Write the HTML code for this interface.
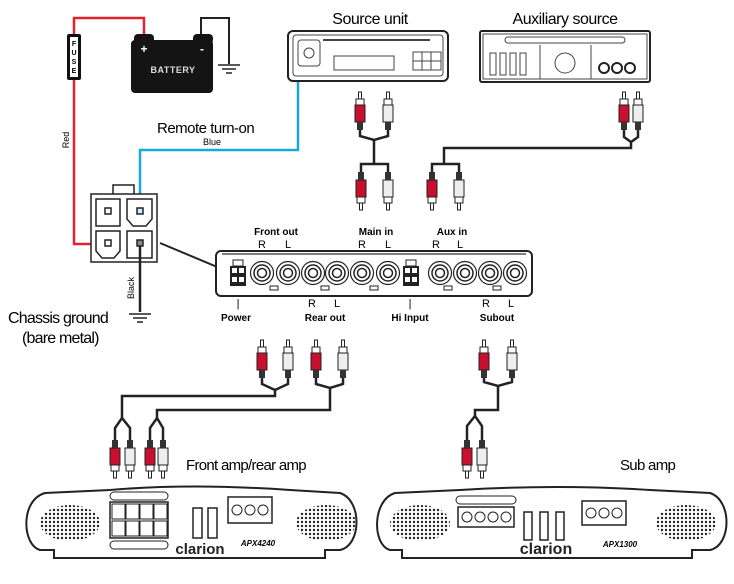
<!DOCTYPE html>
<html><head><meta charset="utf-8"><style>
html,body{margin:0;padding:0;background:#fff;}
svg{display:block;font-family:"Liberation Sans",sans-serif;}
</style></head><body>
<svg width="734" height="584" viewBox="0 0 734 584" xmlns="http://www.w3.org/2000/svg">
<defs>
<g id="pu">
<rect x="-1.5" y="0" width="3" height="7" fill="#fff" stroke="#222" stroke-width="1"/>
<rect x="-4" y="7" width="8" height="6" fill="#fff" stroke="#222" stroke-width="1"/>
<rect x="-5" y="13" width="10" height="17" stroke="#222" stroke-width="1"/>
<rect x="-3" y="30" width="6" height="8" fill="#333"/>
</g>
<g id="ru"><use href="#pu" fill="#c8102e"/></g>
<g id="wu"><use href="#pu" fill="#eee"/></g>
<pattern id="dots" width="4" height="4" patternUnits="userSpaceOnUse"><circle cx="2" cy="2" r="1.2" fill="#222"/></pattern>
<g id="jack"><circle r="11.5" fill="#fff" stroke="#222" stroke-width="1.2"/><circle r="8" fill="#fff" stroke="#222" stroke-width="1.5"/><circle r="4.5" fill="#fff" stroke="#222" stroke-width="1.5"/></g>
<g id="blk"><rect x="-8" y="-10" width="16" height="20" fill="#222"/><rect x="-5" y="-16" width="10" height="6" fill="#fff" stroke="#222"/><rect x="-6" y="-8" width="5" height="5" fill="#fff"/><rect x="1" y="-8" width="5" height="5" fill="#fff"/><rect x="-6" y="1" width="5" height="5" fill="#fff"/><rect x="1" y="1" width="5" height="5" fill="#fff"/></g>
<g id="gnd"><line x1="-11" y1="0" x2="11" y2="0" stroke="#222" stroke-width="1.5"/><line x1="-7" y1="4" x2="7" y2="4" stroke="#222" stroke-width="1.5"/><line x1="-3" y1="8" x2="3" y2="8" stroke="#222" stroke-width="1.5"/></g>
</defs>

<polyline points="74,80 74,244 108,244" fill="none" stroke="#e2222e" stroke-width="2.5"/>
<polyline points="74,34 74,18 144,18 144,40" fill="none" stroke="#e2222e" stroke-width="2.5"/>
<polyline points="201,40 201,18 229,18 229,64" fill="none" stroke="#222" stroke-width="2"/>
<use href="#gnd" x="229" y="65"/>
<rect x="67" y="34" width="14" height="46" rx="2" fill="#111"/>
<rect x="70" y="37" width="8" height="40" fill="#fff"/>
<text x="74" y="46" font-size="7" font-weight="bold" text-anchor="middle">F</text>
<text x="74" y="55" font-size="7" font-weight="bold" text-anchor="middle">U</text>
<text x="74" y="64" font-size="7" font-weight="bold" text-anchor="middle">S</text>
<text x="74" y="73" font-size="7" font-weight="bold" text-anchor="middle">E</text>
<rect x="131" y="40" width="82" height="53" rx="4" fill="#141414"/>
<rect x="134" y="34" width="20" height="10" rx="4" fill="#141414"/>
<rect x="193" y="34" width="20" height="10" rx="4" fill="#141414"/>
<text x="144" y="53" font-size="12" font-weight="bold" fill="#fff" text-anchor="middle">+</text>
<text x="202" y="53" font-size="12" font-weight="bold" fill="#fff" text-anchor="middle">-</text>
<text x="173" y="73" font-size="9" font-weight="bold" fill="#ddd" text-anchor="middle" letter-spacing="0.5">BATTERY</text>
<text transform="translate(69,140) rotate(-90)" font-size="9" text-anchor="middle">Red</text>

<polyline points="298,82 298,150 140,150 140,210" fill="none" stroke="#1aa7dc" stroke-width="2.5"/>
<text x="157" y="133" font-size="15" letter-spacing="-0.5">Remote turn-on</text>
<text x="212" y="145" font-size="9" text-anchor="middle">Blue</text>

<rect x="113" y="185" width="21" height="10" fill="#fff" stroke="#222" stroke-width="1.5"/>
<rect x="91" y="194" width="66" height="68" fill="#fff" stroke="#222" stroke-width="1.5"/>
<rect x="96" y="199" width="24" height="27" fill="#fff" stroke="#222" stroke-width="1.5"/>
<path d="M127,199 h25 v20 l-6,7 h-13 l-6,-7 z" fill="#fff" stroke="#222" stroke-width="1.5"/>
<path d="M96,231 h24 v20 l-6,7 h-12 l-6,-7 z" fill="#fff" stroke="#222" stroke-width="1.5"/>
<rect x="127" y="231" width="25" height="27" fill="#fff" stroke="#222" stroke-width="1.5"/>
<rect x="105" y="208" width="6" height="6" fill="#fff" stroke="#222" stroke-width="1.5"/>
<rect x="137" y="208" width="6" height="6" fill="#cfefff" stroke="#222" stroke-width="1.5"/>
<rect x="105" y="240" width="6" height="6" fill="#fff" stroke="#222" stroke-width="1.5"/>
<rect x="137" y="240" width="6" height="6" fill="#888" stroke="#222" stroke-width="1.5"/>
<line x1="140" y1="246" x2="140" y2="312" stroke="#222" stroke-width="2.5"/>
<use href="#gnd" x="140" y="314"/>
<text transform="translate(134,288) rotate(-90)" font-size="9" text-anchor="middle">Black</text>
<line x1="160" y1="243" x2="222" y2="269" stroke="#222" stroke-width="2"/>
<polygon points="229,272 216,272 221,263" fill="#222"/>
<text x="8" y="323" font-size="16" letter-spacing="-0.8">Chassis ground</text>
<text x="22" y="343" font-size="16" letter-spacing="-0.8">(bare metal)</text>

<text x="370" y="24" font-size="16" text-anchor="middle" letter-spacing="-0.5">Source unit</text>
<rect x="288" y="31" width="160" height="50" rx="5" fill="#fff" stroke="#222" stroke-width="2"/>
<rect x="293" y="35" width="150" height="41" rx="3" fill="none" stroke="#444"/>
<rect x="298" y="40" width="22" height="26" rx="3" fill="none" stroke="#444"/>
<circle cx="309" cy="53" r="5" fill="none" stroke="#444"/>
<line x1="323" y1="40" x2="430" y2="40" stroke="#444" stroke-width="2"/>
<rect x="334" y="56" width="60" height="14" fill="none" stroke="#444"/>
<rect x="413" y="52" width="28" height="18" fill="none" stroke="#444"/>
<line x1="422" y1="52" x2="422" y2="70" stroke="#444"/><line x1="431" y1="52" x2="431" y2="70" stroke="#444"/><line x1="413" y1="61" x2="441" y2="61" stroke="#444"/>
<text x="565" y="24" font-size="16" text-anchor="middle" letter-spacing="-0.5">Auxiliary source</text>
<rect x="480" y="31" width="170" height="51" rx="2" fill="#fff" stroke="#222" stroke-width="2"/>
<rect x="483" y="34" width="164" height="45" fill="none" stroke="#444"/>
<rect x="505" y="37" width="120" height="6" rx="3" fill="none" stroke="#444"/>
<line x1="540" y1="45" x2="540" y2="79" stroke="#444"/><line x1="591" y1="45" x2="591" y2="79" stroke="#444"/>
<circle cx="565" cy="63" r="10" fill="none" stroke="#444"/>
<rect x="490" y="53" width="6" height="22" fill="none" stroke="#444"/><rect x="500" y="53" width="6" height="22" fill="none" stroke="#444"/><rect x="510" y="53" width="6" height="22" fill="none" stroke="#444"/><rect x="520" y="53" width="6" height="22" fill="none" stroke="#444"/>
<circle cx="604" cy="68" r="5" fill="none" stroke="#222" stroke-width="2"/><circle cx="617" cy="68" r="5" fill="none" stroke="#222" stroke-width="2"/><circle cx="630" cy="68" r="5" fill="none" stroke="#222" stroke-width="2"/>

<g fill="none" stroke="#222" stroke-width="2.5">
<path d="M360,130 L360,136 L374,140 L388,136 L388,130 M374,140 L374,164 M361,173 L361,164 L388,164 L388,173"/>
<path d="M624,130 L624,137 L631,142 L638,137 L638,130 M631,142 L631,148 L444,148 L444,164 M432,173 L432,164 L459,164 L459,173"/>
<path d="M262,378 L262,384 L275,390 L288,384 L288,378 M275,390 L275,396 L122,396 L122,418 M115,441 L115,428 L122,418 L130,428 L130,441"/>
<path d="M316,378 L316,384 L330,388 L343,384 L343,378 M330,388 L330,410 L157,410 L157,418 M150,441 L150,428 L157,418 L163,428 L163,441"/>
<path d="M484,378 L484,382 L498,386 L512,382 L512,378 M498,386 L498,410 L475,410 L475,416 M467,441 L467,426 L475,416 L482,426 L482,441"/>
</g>
<use href="#ru" x="360" y="92"/><use href="#wu" x="388" y="92"/>
<use href="#ru" x="624" y="92"/><use href="#wu" x="638" y="92"/>
<use href="#ru" transform="translate(361,210) scale(1,-1)"/><use href="#wu" transform="translate(388,210) scale(1,-1)"/>
<use href="#ru" transform="translate(432,210) scale(1,-1)"/><use href="#wu" transform="translate(459,210) scale(1,-1)"/>
<use href="#ru" x="262" y="340"/><use href="#wu" x="288" y="340"/>
<use href="#ru" x="316" y="340"/><use href="#wu" x="343" y="340"/>
<use href="#ru" x="484" y="340"/><use href="#wu" x="512" y="340"/>
<use href="#ru" transform="translate(115,478) scale(1,-1)"/><use href="#wu" transform="translate(130,478) scale(1,-1)"/>
<use href="#ru" transform="translate(150,478) scale(1,-1)"/><use href="#wu" transform="translate(163,478) scale(1,-1)"/>
<use href="#ru" transform="translate(467,478) scale(1,-1)"/><use href="#wu" transform="translate(482,478) scale(1,-1)"/>

<g font-size="10" font-weight="bold" text-anchor="middle">
<text x="276" y="235">Front out</text><text x="376" y="235">Main in</text><text x="452" y="235">Aux in</text>
</g>
<g font-size="11" text-anchor="middle">
<text x="262" y="248">R</text><text x="288" y="248">L</text><text x="362" y="248">R</text><text x="388" y="248">L</text><text x="436" y="248">R</text><text x="460" y="248">L</text>
<text x="312" y="307">R</text><text x="337" y="307">L</text><text x="486" y="307">R</text><text x="511" y="307">L</text>
<text x="238" y="307">|</text><text x="410" y="307">|</text>
</g>
<g font-size="10" font-weight="bold" text-anchor="middle">
<text x="236" y="321">Power</text><text x="325" y="321">Rear out</text><text x="410" y="321">Hi Input</text><text x="497" y="321">Subout</text>
</g>
<rect x="216" y="251" width="316" height="45" rx="5" fill="#fff" stroke="#222" stroke-width="2"/>
<line x1="222" y1="254" x2="526" y2="254" stroke="#555" stroke-width="1.5"/>
<use href="#blk" x="238" y="276"/><use href="#blk" x="411" y="276"/>
<use href="#jack" x="262" y="273"/><use href="#jack" x="288" y="273"/><use href="#jack" x="313" y="273"/><use href="#jack" x="337" y="273"/><use href="#jack" x="362" y="273"/><use href="#jack" x="388" y="273"/><use href="#jack" x="440" y="273"/><use href="#jack" x="465" y="273"/><use href="#jack" x="490" y="273"/><use href="#jack" x="515" y="273"/>
<g fill="#fff" stroke="#222"><rect x="270" y="286" width="8" height="4"/><rect x="321" y="286" width="8" height="4"/><rect x="370" y="286" width="8" height="4"/><rect x="444" y="286" width="8" height="4"/><rect x="493" y="286" width="8" height="4"/></g>

<text x="186" y="470" font-size="15" letter-spacing="-0.7">Front amp/rear amp</text>
<text x="620" y="470" font-size="15" letter-spacing="-0.7">Sub amp</text>

<path d="M54,558 L54,550 L40,550 C22,545 20,500 45,493 L110,490 Q190,483 290,490 L340,493 C362,500 362,545 340,550 L325,550 L325,558 Z" fill="#fff" stroke="#222" stroke-width="2"/>
<ellipse cx="70" cy="523" rx="30" ry="18" fill="url(#dots)"/>
<ellipse cx="326" cy="523" rx="30" ry="18" fill="url(#dots)"/>
<rect x="110" y="492" width="58" height="8" rx="4" fill="#fff" stroke="#222"/>
<rect x="110" y="541" width="58" height="8" rx="4" fill="#fff" stroke="#222"/>
<rect x="110" y="502" width="58" height="36" fill="#fff" stroke="#222" stroke-width="1.5"/>
<g fill="#fff" stroke="#222"><rect x="112" y="504" width="13" height="15"/><rect x="126" y="504" width="13" height="15"/><rect x="140" y="504" width="13" height="15"/><rect x="154" y="504" width="13" height="15"/><rect x="112" y="521" width="13" height="15"/><rect x="126" y="521" width="13" height="15"/><rect x="140" y="521" width="13" height="15"/><rect x="154" y="521" width="13" height="15"/></g>
<rect x="193" y="508" width="9" height="30" fill="#fff" stroke="#222" stroke-width="1.5"/><rect x="208" y="508" width="9" height="30" fill="#fff" stroke="#222" stroke-width="1.5"/>
<rect x="228" y="497" width="44" height="26" fill="#fff" stroke="#222" stroke-width="1.5"/>
<g fill="none" stroke="#222"><circle cx="237" cy="510" r="5"/><circle cx="250" cy="510" r="5"/><circle cx="263" cy="510" r="5"/></g>
<text x="200" y="554" font-size="15" font-weight="bold" text-anchor="middle" fill="#222">clarion</text>
<text x="258" y="546" font-size="8" font-weight="bold" font-style="italic" text-anchor="middle">APX4240</text>

<path d="M402,558 L402,550 L390,550 C372,545 372,500 395,493 L460,490 Q560,484 650,490 L710,493 C732,500 732,545 710,550 L692,550 L692,558 Z" fill="#fff" stroke="#222" stroke-width="2"/>
<ellipse cx="420" cy="523" rx="30" ry="18" fill="url(#dots)"/>
<ellipse cx="686" cy="523" rx="30" ry="18" fill="url(#dots)"/>
<rect x="456" y="496" width="60" height="8" rx="4" fill="#fff" stroke="#222"/>
<rect x="458" y="507" width="56" height="20" fill="#fff" stroke="#222" stroke-width="1.5"/>
<g fill="none" stroke="#222"><circle cx="467" cy="517" r="5"/><circle cx="480" cy="517" r="5"/><circle cx="493" cy="517" r="5"/><circle cx="506" cy="517" r="5"/></g>
<rect x="524" y="512" width="8" height="28" fill="#fff" stroke="#222" stroke-width="1.5"/><rect x="540" y="512" width="8" height="28" fill="#fff" stroke="#222" stroke-width="1.5"/><rect x="556" y="512" width="8" height="28" fill="#fff" stroke="#222" stroke-width="1.5"/>
<rect x="582" y="501" width="44" height="24" fill="#fff" stroke="#222" stroke-width="1.5"/>
<g fill="none" stroke="#222"><circle cx="591" cy="513" r="5"/><circle cx="604" cy="513" r="5"/><circle cx="617" cy="513" r="5"/></g>
<text x="546" y="554" font-size="16" font-weight="bold" text-anchor="middle" fill="#222">clarion</text>
<text x="620" y="547" font-size="8" font-weight="bold" font-style="italic" text-anchor="middle">APX1300</text>
</svg>
</body></html>
